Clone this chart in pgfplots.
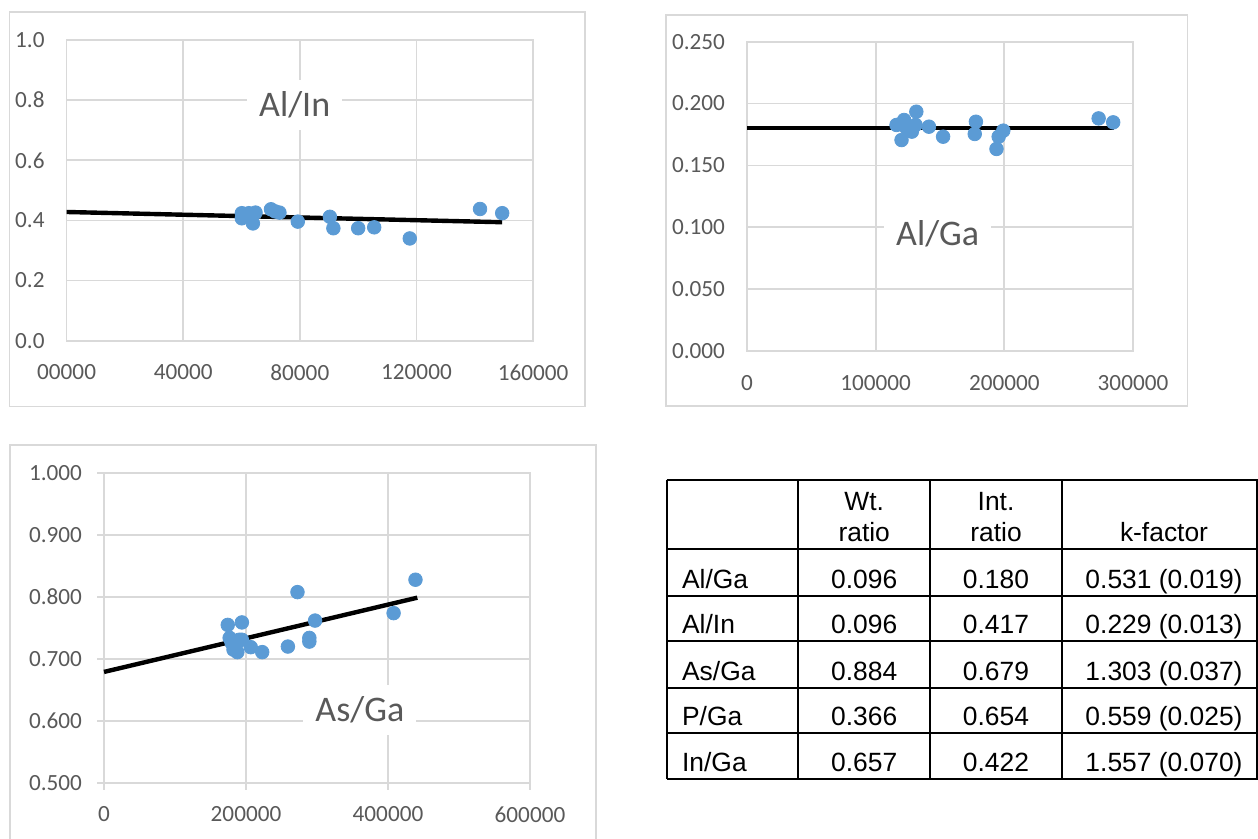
\documentclass[border=0pt]{standalone}
\usepackage{fontspec}
\setmainfont{Carlito}
\newfontfamily\arial{Liberation Sans}
\usepackage{pgfplots}
\pgfplotsset{compat=1.18}
\definecolor{gridgray}{RGB}{217,217,217}
\definecolor{tickgray}{RGB}{89,89,89}
\definecolor{dotblue}{RGB}{91,155,213}

\pgfplotsset{excel/.style={
  scale only axis, anchor=south west,
  axis line style={gridgray, line width=0.85pt},
  grid=major, grid style={gridgray, line width=0.85pt},
  major tick length=0pt,
  tick style={gridgray, line width=0.85pt},
  tick label style={font=\fontsize{11.6}{13}\selectfont, text=tickgray},
  /pgf/number format/assume math mode=true,
  scaled ticks=false,
  yticklabel shift=7.5pt, xticklabel shift=8.5pt,
  clip=false,
},
dots/.style={only marks, mark=*, mark size=3.4pt, mark options={fill=dotblue, draw=dotblue}},
trend/.style={black, line width=2.2pt, no marks},
}
\tikzset{lbl/.style={fill=white, inner xsep=6pt, inner ysep=6pt, text=tickgray, font=\fontsize{18}{20}\selectfont}}

\begin{document}
\begin{tikzpicture}[x=1pt,y=1pt]
\useasboundingbox (0pt,0pt) rectangle (629pt,419.5pt);
% chart frames
\draw[gridgray, line width=0.85pt] (4.8pt,413.5pt) rectangle (292.5pt,216.2pt);
\draw[gridgray, line width=0.85pt] (332.85pt,412pt) rectangle (593.75pt,216.5pt);
\draw[gridgray, line width=0.85pt] (5pt,-5pt) -- (5pt,197pt) -- (297.85pt,197pt) -- (297.85pt,-5pt);

% Chart 1: Al/In
\begin{axis}[excel, at={(33.3pt,249.15pt)}, width=233.25pt, height=150.35pt,
  xmin=0, xmax=160000, ymin=0, ymax=1,
  xtick={0,40000,80000,120000,160000},
  xticklabels={00000,40000,80000,120000,160000},
  ytick={0,0.2,0.4,0.6,0.8,1.0},
  yticklabels={0.0,0.2,0.4,0.6,0.8,1.0}]
\addplot[dots] coordinates {
(60100,0.424) (60100,0.407) (61000,0.418) (62500,0.424) (63900,0.390)
(64800,0.426) (70100,0.437) (71500,0.430) (73000,0.426) (79300,0.396)
(90300,0.412) (91500,0.374) (100000,0.374) (105500,0.377) (117700,0.340)
(141800,0.438) (149400,0.424)};
\addplot[trend] coordinates {(0,0.428) (149400,0.394)};
\node[lbl] at (axis cs:78230,0.784) {Al/In};
\end{axis}

% Chart 2: Al/Ga
\begin{axis}[excel, at={(373.5pt,244pt)}, width=193pt, height=154.65pt,
  xmin=0, xmax=300000, ymin=0, ymax=0.25,
  xtick={0,100000,200000,300000},
  xticklabels={0,100000,200000,300000},
  ytick={0,0.05,0.1,0.15,0.2,0.25},
  yticklabels={0.000,0.050,0.100,0.150,0.200,0.250}]
\addplot[dots] coordinates {
(116200,0.1827) (120100,0.1705) (122100,0.1867) (124000,0.1800) (128100,0.1773)
(131000,0.1827) (131600,0.1934) (141400,0.1813) (152400,0.1732) (177000,0.1754)
(177900,0.1853) (193900,0.1633) (195600,0.1732) (199200,0.1781) (273300,0.1880)
(284600,0.1848)};
\addplot[trend] coordinates {(0,0.180) (285000,0.180)};
\node[lbl] at (axis cs:148200,0.0951) {Al/Ga};
\end{axis}

% Chart 3: As/Ga
\begin{axis}[excel, at={(52pt,28.15pt)}, width=213pt, height=154.7pt,
  xmin=0, xmax=600000, ymin=0.5, ymax=1,
  tick pos=left, tick align=outside, major tick length=3.5pt,
  xtick={0,200000,400000,600000},
  xticklabels={0,200000,400000,600000},
  ytick={0.5,0.6,0.7,0.8,0.9,1.0},
  yticklabels={0.500,0.600,0.700,0.800,0.900,1.000},
  yticklabel shift=4pt, xticklabel shift=5pt]
\addplot[dots] coordinates {
(174300,0.755) (177000,0.734) (179700,0.726) (182400,0.715) (187800,0.711)
(190500,0.731) (194200,0.759) (194200,0.731) (206700,0.719) (222800,0.711)
(259000,0.720) (272500,0.808) (289200,0.734) (289200,0.728) (297300,0.762)
(407900,0.774) (438700,0.828)};
\addplot[trend] coordinates {(0,0.679) (441300,0.799)};
\node[lbl] at (axis cs:360400,0.6177) {As/Ga};
\end{axis}

% Table
\begin{scope}[line width=1pt]
\draw (333.35pt,179.5pt) -- (633pt,179.5pt);
\foreach \yy in {145,121.65,99.15,75.35,52.85,29.85} {\draw (333.35pt,\yy pt) -- (633pt,\yy pt);}
\foreach \xx in {333.35,399.15,465,531,628.5} {\draw (\xx pt,179.5pt) -- (\xx pt,29.85pt);}
\end{scope}
\begin{scope}[every node/.style={inner sep=0pt, font=\arial\fontsize{13.2}{15}\selectfont}]
\node[anchor=base] at (432.1pt,164.35pt) {Wt.};
\node[anchor=base] at (432.1pt,148.5pt) {ratio};
\node[anchor=base] at (498pt,164.35pt) {Int.};
\node[anchor=base] at (498pt,148.5pt) {ratio};
\node[anchor=base] at (582pt,148.5pt) {k-factor};
\node[anchor=base west] at (340.85pt,125.35pt) {Al/Ga};
\node[anchor=base] at (432.1pt,125.35pt) {0.096};
\node[anchor=base] at (498pt,125.35pt) {0.180};
\node[anchor=base] at (582pt,125.35pt) {0.531 (0.019)};
\node[anchor=base west] at (340.85pt,102.85pt) {Al/In};
\node[anchor=base] at (432.1pt,102.85pt) {0.096};
\node[anchor=base] at (498pt,102.85pt) {0.417};
\node[anchor=base] at (582pt,102.85pt) {0.229 (0.013)};
\node[anchor=base west] at (340.85pt,79.05pt) {As/Ga};
\node[anchor=base] at (432.1pt,79.05pt) {0.884};
\node[anchor=base] at (498pt,79.05pt) {0.679};
\node[anchor=base] at (582pt,79.05pt) {1.303 (0.037)};
\node[anchor=base west] at (340.85pt,56.55pt) {P/Ga};
\node[anchor=base] at (432.1pt,56.55pt) {0.366};
\node[anchor=base] at (498pt,56.55pt) {0.654};
\node[anchor=base] at (582pt,56.55pt) {0.559 (0.025)};
\node[anchor=base west] at (340.85pt,33.55pt) {In/Ga};
\node[anchor=base] at (432.1pt,33.55pt) {0.657};
\node[anchor=base] at (498pt,33.55pt) {0.422};
\node[anchor=base] at (582pt,33.55pt) {1.557 (0.070)};
\end{scope}
\end{tikzpicture}
\end{document}
